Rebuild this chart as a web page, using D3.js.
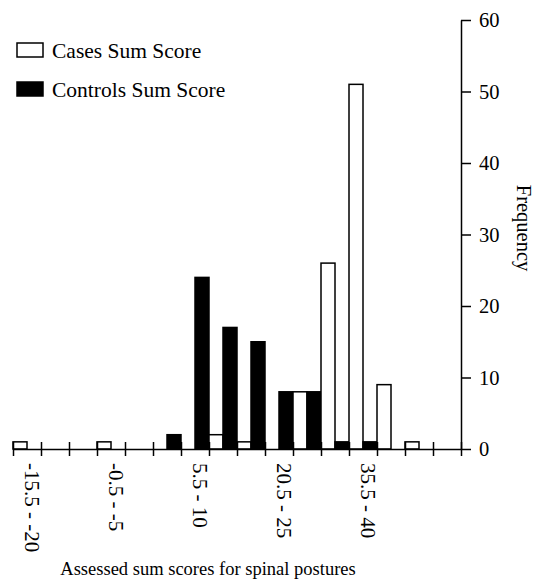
<!DOCTYPE html>
<html>
<head>
<meta charset="utf-8">
<script src="https://cdn.jsdelivr.net/npm/d3@7"></script>
<style>
  html, body { margin: 0; padding: 0; background: #fff; }
  svg { display: block; }
  svg text { font-family: "Liberation Serif", "Times New Roman", Times, "DejaVu Serif", serif !important; }
</style>
</head>
<body>
<svg id="chart" width="537" height="583"></svg>
<script>
// ---- data ----
const categories = [
  "-15.5 - -20", "-10.5 - -15", "-5.5 - -10", "-0.5 - -5", "0", "0.5 - 5",
  "5.5 - 10", "10.5 - 15", "15.5 - 20", "20.5 - 25", "25.5 - 30", "30.5 - 35",
  "35.5 - 40", "40.5 - 45", "45.5 - 50", "50.5 - 55"
];
const casesValues    = [1, 0, 0, 1, 0, 0, 0, 2, 1, 0, 8, 26, 51, 9, 1, 0];
const controlsValues = [0, 0, 0, 0, 0, 2, 24, 17, 15, 8, 8, 1, 1, 0, 0, 0];
const labelledCategories = ["-15.5 - -20", "-0.5 - -5", "5.5 - 10", "20.5 - 25", "35.5 - 40"];
const yTickValues = [0, 10, 20, 30, 40, 50, 60];
const seriesNames = ["Cases Sum Score", "Controls Sum Score"];
const seriesKeys = ["cases", "controls"];

// ---- layout ----
const svg = d3.select("#chart");
const x0 = 13, x1 = 461, yBase = 449, yTop = 20;

const x = d3.scaleBand().domain(categories).range([x0, x1]).padding(0);
const xSub = d3.scaleBand().domain(seriesKeys).range([0, x.bandwidth()]).padding(0);
const xBoundary = d3.scaleLinear().domain([0, categories.length]).range([x0, x1]);
const y = d3.scaleLinear().domain([0, 60]).range([yBase, yTop]);

const fill = { cases: "#ffffff", controls: "#000000" };

const rows = categories.map((c, i) => ({
  cat: c,
  values: [
    { key: "cases", v: casesValues[i] },
    { key: "controls", v: controlsValues[i] }
  ]
}));

// bars
const g = svg.append("g");
g.selectAll("g.cat").data(rows).join("g")
  .attr("class", "cat")
  .attr("transform", d => `translate(${x(d.cat)},0)`)
  .selectAll("rect")
  .data(d => d.values.filter(v => v.v > 0))
  .join("rect")
  .attr("x", d => xSub(d.key))
  .attr("y", d => y(d.v))
  .attr("width", xSub.bandwidth())
  .attr("height", d => yBase - y(d.v))
  .attr("fill", d => fill[d.key])
  .attr("stroke", "#000")
  .attr("stroke-width", 1.5);

// x axis (crossing ticks at category boundaries)
const xAxis = svg.append("g")
  .attr("transform", `translate(0,${yBase})`)
  .call(d3.axisBottom(xBoundary)
    .tickValues(d3.range(categories.length + 1))
    .tickFormat("")
    .tickSizeInner(7)
    .tickSizeOuter(0));
xAxis.select(".domain").attr("stroke", "#000").attr("stroke-width", 1.5);
xAxis.selectAll(".tick line").attr("y1", -7).attr("y2", 7).attr("stroke", "#000").attr("stroke-width", 1.5);

// x tick labels (rotated)
svg.append("g").selectAll("text")
  .data(labelledCategories)
  .join("text")
  .attr("transform", d => `translate(${x(d) + x.bandwidth() / 2 - 2.5},463) rotate(90)`)
  .attr("text-anchor", "start")
  .attr("font-size", 21)
  .attr("fill", "#000")
  .text(d => d);

// y axis on right
const yAxis = svg.append("g")
  .attr("transform", `translate(${x1},0)`)
  .call(d3.axisRight(y).tickValues(yTickValues).tickSizeInner(10).tickSizeOuter(0).tickPadding(8));
yAxis.select(".domain").attr("stroke", "#000").attr("stroke-width", 1.5);
yAxis.selectAll(".tick line").attr("stroke", "#000").attr("stroke-width", 1.5);
yAxis.selectAll(".tick text")
  .attr("font-size", 20.5)
  .attr("fill", "#000");

// y title
svg.append("text")
  .attr("transform", `translate(517,228) rotate(90)`)
  .attr("text-anchor", "middle")
  .attr("font-size", 20.5)
  .text("Frequency");

// x title
svg.append("text")
  .attr("x", 208)
  .attr("y", 575)
  .attr("text-anchor", "middle")
  .attr("font-size", 18.5)
  .text("Assessed sum scores for spinal postures");

// legend
const legend = svg.append("g");
const legendItems = seriesKeys.map((k, i) => ({ key: k, name: seriesNames[i] }));
const lg = legend.selectAll("g").data(legendItems).join("g")
  .attr("transform", (d, i) => `translate(17,${43 + i * 39})`);
lg.append("rect")
  .attr("width", 26).attr("height", 14)
  .attr("fill", d => fill[d.key])
  .attr("stroke", "#000").attr("stroke-width", 1.5);
lg.append("text")
  .attr("x", 35).attr("y", 15)
  .attr("font-size", 21.5)
  .text(d => d.name);
</script>
</body>
</html>
